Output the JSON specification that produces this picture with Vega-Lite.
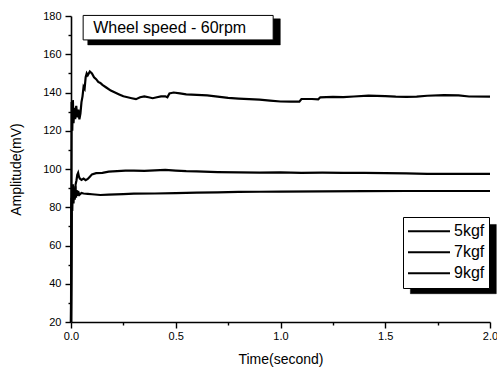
{
  "$schema": "https://vega.github.io/schema/vega-lite/v6.json",
  "width": 419,
  "height": 306,
  "autosize": {"type": "none"},
  "padding": {"left": 71, "top": 16, "right": 7, "bottom": 46},
  "background": "white",
  "config": {
    "font": "Liberation Sans",
    "view": {"stroke": null},
    "axis": {"grid": false, "domainColor": "black", "tickColor": "black", "labelColor": "black", "titleColor": "black", "domainWidth": 1.6, "tickWidth": 1.4, "labelFontSize": 11, "titleFontSize": 14, "titleFontWeight": "normal", "labelOverlap": false}
  },
  "resolve": {"scale": {"x": "independent", "y": "independent"}, "axis": {"x": "independent", "y": "independent"}},
  "datasets": {
    "curves": [
      {"t": 0, "v": 20, "s": "9kgf"}, {"t": 0.003, "v": 135, "s": "9kgf"}, {"t": 0.006, "v": 120, "s": "9kgf"}, {"t": 0.009, "v": 136, "s": "9kgf"}, {"t": 0.012, "v": 124, "s": "9kgf"}, {"t": 0.016, "v": 132, "s": "9kgf"}, {"t": 0.02, "v": 126, "s": "9kgf"}, {"t": 0.025, "v": 133, "s": "9kgf"}, {"t": 0.03, "v": 127, "s": "9kgf"}, {"t": 0.035, "v": 131, "s": "9kgf"}, {"t": 0.04, "v": 126, "s": "9kgf"}, {"t": 0.045, "v": 129, "s": "9kgf"}, {"t": 0.05, "v": 135, "s": "9kgf"}, {"t": 0.055, "v": 138, "s": "9kgf"}, {"t": 0.06, "v": 143, "s": "9kgf"}, {"t": 0.065, "v": 142, "s": "9kgf"}, {"t": 0.07, "v": 148, "s": "9kgf"}, {"t": 0.075, "v": 150, "s": "9kgf"}, {"t": 0.08, "v": 149, "s": "9kgf"}, {"t": 0.09, "v": 151, "s": "9kgf"}, {"t": 0.1, "v": 150, "s": "9kgf"}, {"t": 0.11, "v": 148, "s": "9kgf"}, {"t": 0.12, "v": 147, "s": "9kgf"}, {"t": 0.13, "v": 145.5, "s": "9kgf"}, {"t": 0.14, "v": 145, "s": "9kgf"}, {"t": 0.15, "v": 144, "s": "9kgf"}, {"t": 0.17, "v": 142.5, "s": "9kgf"}, {"t": 0.19, "v": 141, "s": "9kgf"}, {"t": 0.21, "v": 140, "s": "9kgf"}, {"t": 0.23, "v": 139, "s": "9kgf"}, {"t": 0.25, "v": 138, "s": "9kgf"}, {"t": 0.27, "v": 137.5, "s": "9kgf"}, {"t": 0.29, "v": 137, "s": "9kgf"}, {"t": 0.31, "v": 136.5, "s": "9kgf"}, {"t": 0.33, "v": 137.5, "s": "9kgf"}, {"t": 0.35, "v": 138, "s": "9kgf"}, {"t": 0.37, "v": 137.5, "s": "9kgf"}, {"t": 0.39, "v": 137, "s": "9kgf"}, {"t": 0.41, "v": 137.5, "s": "9kgf"}, {"t": 0.43, "v": 138, "s": "9kgf"}, {"t": 0.45, "v": 138, "s": "9kgf"}, {"t": 0.46, "v": 137.5, "s": "9kgf"}, {"t": 0.47, "v": 139.5, "s": "9kgf"}, {"t": 0.49, "v": 140, "s": "9kgf"}, {"t": 0.52, "v": 139.5, "s": "9kgf"}, {"t": 0.55, "v": 139, "s": "9kgf"}, {"t": 0.6, "v": 138.8, "s": "9kgf"}, {"t": 0.65, "v": 138.5, "s": "9kgf"}, {"t": 0.7, "v": 137.8, "s": "9kgf"}, {"t": 0.75, "v": 137.2, "s": "9kgf"}, {"t": 0.8, "v": 136.8, "s": "9kgf"}, {"t": 0.85, "v": 136.5, "s": "9kgf"}, {"t": 0.9, "v": 136.3, "s": "9kgf"}, {"t": 0.95, "v": 135.8, "s": "9kgf"}, {"t": 1.0, "v": 135.3, "s": "9kgf"}, {"t": 1.05, "v": 135.2, "s": "9kgf"}, {"t": 1.09, "v": 135.2, "s": "9kgf"}, {"t": 1.1, "v": 136.6, "s": "9kgf"}, {"t": 1.15, "v": 136.6, "s": "9kgf"}, {"t": 1.18, "v": 136.4, "s": "9kgf"}, {"t": 1.19, "v": 137.5, "s": "9kgf"}, {"t": 1.25, "v": 137.7, "s": "9kgf"}, {"t": 1.3, "v": 137.6, "s": "9kgf"}, {"t": 1.35, "v": 137.9, "s": "9kgf"}, {"t": 1.42, "v": 138.4, "s": "9kgf"}, {"t": 1.5, "v": 138.1, "s": "9kgf"}, {"t": 1.55, "v": 137.8, "s": "9kgf"}, {"t": 1.6, "v": 137.7, "s": "9kgf"}, {"t": 1.65, "v": 137.8, "s": "9kgf"}, {"t": 1.7, "v": 138.3, "s": "9kgf"}, {"t": 1.78, "v": 138.6, "s": "9kgf"}, {"t": 1.85, "v": 138.5, "s": "9kgf"}, {"t": 1.9, "v": 137.9, "s": "9kgf"}, {"t": 2.0, "v": 137.8, "s": "9kgf"},
      {"t": 0, "v": 20, "s": "7kgf"}, {"t": 0.003, "v": 80, "s": "7kgf"}, {"t": 0.006, "v": 88, "s": "7kgf"}, {"t": 0.01, "v": 84, "s": "7kgf"}, {"t": 0.014, "v": 90, "s": "7kgf"}, {"t": 0.018, "v": 85, "s": "7kgf"}, {"t": 0.022, "v": 92, "s": "7kgf"}, {"t": 0.026, "v": 94, "s": "7kgf"}, {"t": 0.03, "v": 97, "s": "7kgf"}, {"t": 0.034, "v": 98, "s": "7kgf"}, {"t": 0.038, "v": 96, "s": "7kgf"}, {"t": 0.042, "v": 95, "s": "7kgf"}, {"t": 0.05, "v": 94.3, "s": "7kgf"}, {"t": 0.06, "v": 95, "s": "7kgf"}, {"t": 0.07, "v": 94.2, "s": "7kgf"}, {"t": 0.08, "v": 94.8, "s": "7kgf"}, {"t": 0.09, "v": 96, "s": "7kgf"}, {"t": 0.1, "v": 97.2, "s": "7kgf"}, {"t": 0.12, "v": 97.8, "s": "7kgf"}, {"t": 0.15, "v": 98, "s": "7kgf"}, {"t": 0.18, "v": 98.6, "s": "7kgf"}, {"t": 0.22, "v": 98.9, "s": "7kgf"}, {"t": 0.26, "v": 99.1, "s": "7kgf"}, {"t": 0.3, "v": 99.2, "s": "7kgf"}, {"t": 0.35, "v": 99, "s": "7kgf"}, {"t": 0.4, "v": 99.3, "s": "7kgf"}, {"t": 0.45, "v": 99.5, "s": "7kgf"}, {"t": 0.5, "v": 99.2, "s": "7kgf"}, {"t": 0.55, "v": 98.9, "s": "7kgf"}, {"t": 0.6, "v": 98.8, "s": "7kgf"}, {"t": 0.7, "v": 98.4, "s": "7kgf"}, {"t": 0.8, "v": 98.2, "s": "7kgf"}, {"t": 0.9, "v": 98.1, "s": "7kgf"}, {"t": 1.0, "v": 98.2, "s": "7kgf"}, {"t": 1.1, "v": 98.0, "s": "7kgf"}, {"t": 1.2, "v": 98.1, "s": "7kgf"}, {"t": 1.3, "v": 98.0, "s": "7kgf"}, {"t": 1.4, "v": 98.0, "s": "7kgf"}, {"t": 1.5, "v": 97.8, "s": "7kgf"}, {"t": 1.6, "v": 97.7, "s": "7kgf"}, {"t": 1.7, "v": 97.5, "s": "7kgf"}, {"t": 1.8, "v": 97.5, "s": "7kgf"}, {"t": 1.9, "v": 97.4, "s": "7kgf"}, {"t": 2.0, "v": 97.4, "s": "7kgf"},
      {"t": 0, "v": 20, "s": "5kgf"}, {"t": 0.003, "v": 85, "s": "5kgf"}, {"t": 0.006, "v": 78, "s": "5kgf"}, {"t": 0.009, "v": 92, "s": "5kgf"}, {"t": 0.012, "v": 82, "s": "5kgf"}, {"t": 0.015, "v": 90, "s": "5kgf"}, {"t": 0.018, "v": 84, "s": "5kgf"}, {"t": 0.021, "v": 91, "s": "5kgf"}, {"t": 0.024, "v": 85, "s": "5kgf"}, {"t": 0.027, "v": 89, "s": "5kgf"}, {"t": 0.03, "v": 86, "s": "5kgf"}, {"t": 0.034, "v": 88.5, "s": "5kgf"}, {"t": 0.04, "v": 86.5, "s": "5kgf"}, {"t": 0.05, "v": 87.5, "s": "5kgf"}, {"t": 0.06, "v": 87.2, "s": "5kgf"}, {"t": 0.08, "v": 87, "s": "5kgf"}, {"t": 0.1, "v": 86.8, "s": "5kgf"}, {"t": 0.14, "v": 86.4, "s": "5kgf"}, {"t": 0.18, "v": 86.6, "s": "5kgf"}, {"t": 0.25, "v": 86.9, "s": "5kgf"}, {"t": 0.3, "v": 87.1, "s": "5kgf"}, {"t": 0.4, "v": 87.2, "s": "5kgf"}, {"t": 0.5, "v": 87.4, "s": "5kgf"}, {"t": 0.6, "v": 87.6, "s": "5kgf"}, {"t": 0.7, "v": 87.8, "s": "5kgf"}, {"t": 0.8, "v": 88, "s": "5kgf"}, {"t": 0.9, "v": 88.1, "s": "5kgf"}, {"t": 1.0, "v": 88.2, "s": "5kgf"}, {"t": 1.2, "v": 88.3, "s": "5kgf"}, {"t": 1.4, "v": 88.4, "s": "5kgf"}, {"t": 1.6, "v": 88.5, "s": "5kgf"}, {"t": 1.8, "v": 88.5, "s": "5kgf"}, {"t": 2.0, "v": 88.5, "s": "5kgf"}
    ],
    "label": [{"text": "Wheel speed - 60rpm"}]
  },
  "layer": [
    {
      "data": {"name": "curves"},
      "mark": {"type": "line", "strokeWidth": 2.2, "interpolate": "linear"},
      "encoding": {
        "x": {
          "field": "t", "type": "quantitative",
          "scale": {"domain": [0, 2], "nice": false, "zero": false},
          "axis": {
            "title": "Time(second)", "titlePadding": 11, "orient": "bottom",
            "values": [0, 0.5, 1, 1.5, 2],
            "format": ".1f", "tickSize": 6,
            "labelPadding": 2, "labelFlush": false, "labelOverlap": false
          }
        },
        "y": {
          "field": "v", "type": "quantitative",
          "scale": {"domain": [20, 180], "nice": false, "zero": false},
          "axis": {
            "title": "Amplitude(mV)", "titlePadding": 19, "orient": "left",
            "values": [20, 40, 60, 80, 100, 120, 140, 160, 180], "tickSize": 6,
            "labelPadding": 4, "labelFlush": false, "labelOverlap": false
          }
        },
        "color": {
          "field": "s", "type": "nominal",
          "scale": {"domain": ["5kgf", "7kgf", "9kgf"], "range": ["black", "black", "black"]},
          "legend": {
            "title": null, "orient": "none", "legendX": 332, "legendY": 201,
            "symbolType": "stroke", "symbolSize": 1764, "symbolStrokeWidth": 2,
            "clipHeight": 20.5, "rowPadding": 0, "labelFontSize": 16, "labelOffset": 3,
            "padding": 4, "strokeColor": "black", "fillColor": "white", "labelColor": "black"
          }
        }
      }
    },
    {
      "data": {"name": "label"},
      "mark": {"type": "rect", "fill": "#000000", "stroke": "#000000", "strokeWidth": 0.5, "clip": false},
      "encoding": {
        "x": {
          "datum": 0.08, "type": "quantitative",
          "scale": {"domain": [0, 2], "nice": false, "zero": false},
          "axis": {"orient": "bottom", "title": null, "labels": false, "domain": false, "tickSize": 3, "values": [0.25, 0.75, 1.25, 1.75]}
        },
        "x2": {"datum": 0.999},
        "y": {
          "datum": 178.5, "type": "quantitative",
          "scale": {"domain": [20, 180], "nice": false, "zero": false},
          "axis": {"orient": "left", "title": null, "labels": false, "domain": false, "tickSize": 3, "values": [30, 50, 70, 90, 110, 130, 150, 170]}
        },
        "y2": {"datum": 164.9}
      }
    },
    {
      "data": {"name": "label"},
      "mark": {"type": "rect", "fill": "#000000", "stroke": "#000000", "strokeWidth": 0.5, "clip": false},
      "encoding": {
        "x": {"datum": 1.62, "type": "quantitative", "scale": {"domain": [0, 2], "nice": false, "zero": false}, "axis": null},
        "x2": {"datum": 2.03},
        "y": {"datum": 71, "type": "quantitative", "scale": {"domain": [20, 180], "nice": false, "zero": false}, "axis": null},
        "y2": {"datum": 34.8}
      }
    },
    {
      "data": {"name": "label"},
      "mark": {"type": "rect", "fill": "white", "stroke": "black", "strokeWidth": 1},
      "encoding": {
        "x": {"datum": 0.058, "type": "quantitative", "scale": {"domain": [0, 2], "nice": false, "zero": false}, "axis": null},
        "x2": {"datum": 0.965},
        "y": {"datum": 180.3, "type": "quantitative", "scale": {"domain": [20, 180], "nice": false, "zero": false}, "axis": null},
        "y2": {"datum": 167.5}
      }
    },
    {
      "data": {"name": "label"},
      "mark": {"type": "text", "align": "left", "baseline": "middle", "fontSize": 16, "color": "black"},
      "encoding": {
        "x": {"datum": 0.106, "type": "quantitative", "scale": {"domain": [0, 2], "nice": false, "zero": false}, "axis": null},
        "y": {"datum": 173.7, "type": "quantitative", "scale": {"domain": [20, 180], "nice": false, "zero": false}, "axis": null},
        "text": {"field": "text"}
      }
    }
  ]
}
